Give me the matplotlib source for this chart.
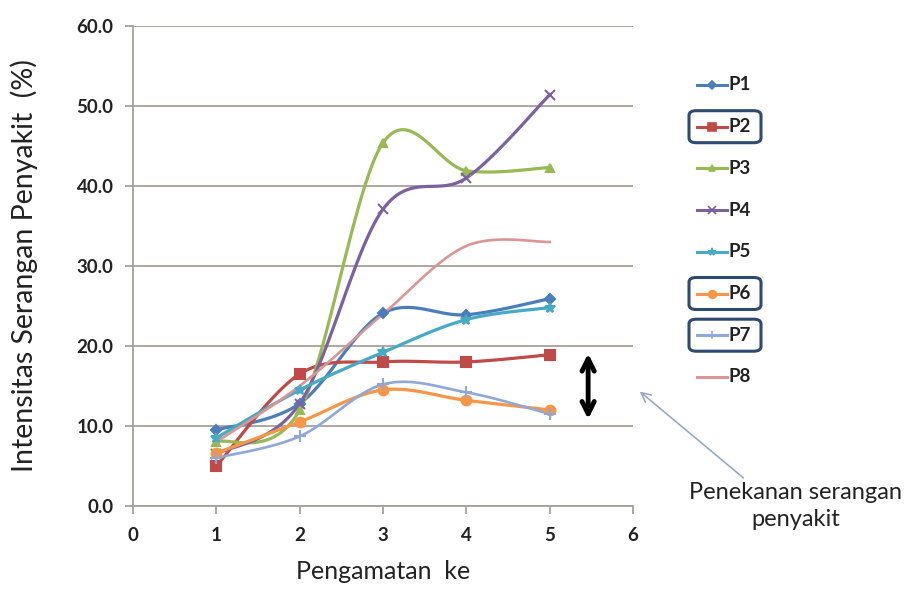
import numpy as np
import matplotlib
matplotlib.use('Agg')
from matplotlib import pyplot as plt
from matplotlib.lines import Line2D
from matplotlib.patches import FancyBboxPatch

plt.rcParams['font.family'] = ['Lato', 'DejaVu Sans']

# data
pengamatan = [1, 2, 3, 4, 5]
P1 = [9.5, 12.8, 24.1, 23.9, 25.9]
P2 = [5.0, 16.5, 18.0, 18.0, 18.9]
P3 = [8.0, 12.0, 45.4, 41.9, 42.3]
P4 = [6.5, 12.8, 37.1, 41.0, 51.4]
P5 = [8.5, 14.5, 19.2, 23.3, 24.8]
P6 = [6.6, 10.5, 14.5, 13.2, 12.0]
P7 = [6.0, 8.7, 15.2, 14.2, 11.5]
P8 = [8.0, 15.0, 24.0, 32.5, 33.0]

names = ['P1', 'P2', 'P3', 'P4', 'P5', 'P6', 'P7', 'P8']
series = [P1, P2, P3, P4, P5, P6, P7, P8]
colors = ['#4a7ebb', '#be4b48', '#98b954', '#7d60a0', '#46aac5', '#f79646', '#8ea9d8', '#d99694']
markers = ['D', 's', '^', 'x', '*', 'o', '+', None]
msizes = [5, 7, 6, 7, 7, 7, 8, 0]
boxed = ['P2', 'P6', 'P7']


def smooth(x, y, n=30):
    # Excel-like smoothed line (Catmull-Rom Bezier through the points)
    x = np.asarray(x, float)
    y = np.asarray(y, float)
    px = np.concatenate([[x[0]], x, [x[-1]]])
    py = np.concatenate([[y[0]], y, [y[-1]]])
    xs, ys = [], []
    t = np.linspace(0, 1, n)
    for i in range(1, len(px) - 2):
        p0 = np.array([px[i], py[i]])
        p3 = np.array([px[i + 1], py[i + 1]])
        c1 = p0 + (np.array([px[i + 1], py[i + 1]]) - np.array([px[i - 1], py[i - 1]])) / 6
        c2 = p3 - (np.array([px[i + 2], py[i + 2]]) - np.array([px[i], py[i]])) / 6
        b = ((1 - t) ** 3)[:, None] * p0 + (3 * (1 - t) ** 2 * t)[:, None] * c1 \
            + (3 * (1 - t) * t ** 2)[:, None] * c2 + (t ** 3)[:, None] * p3
        xs.extend(b[:, 0])
        ys.extend(b[:, 1])
    return xs, ys


W, H = 911, 589
fig = plt.figure(figsize=(W / 100, H / 100), dpi=100)
ax = fig.add_axes([0.146, 0.141, 0.549, 0.815])

for name, ys, c, m, ms in zip(names, series, colors, markers, msizes):
    sx, sy = smooth(pengamatan, ys)
    lw = 2.3 if name not in ('P7', 'P8') else 1.9
    ax.plot(sx, sy, color=c, lw=lw, zorder=2)
    if m:
        ax.plot(pengamatan, ys, ls='none', marker=m, color=c, ms=ms, mew=1.5, zorder=3)

ax.set_xlim(0, 6)
ax.set_ylim(0, 60)
ax.set_xticks(range(0, 7))
ax.set_yticks(np.arange(0, 61, 10))
ax.set_yticklabels(['%.1f' % v for v in np.arange(0, 61, 10)])
ax.yaxis.grid(True, color='#a8a09a', lw=1.3)
ax.set_axisbelow(True)
for s in ['top', 'right']:
    ax.spines[s].set_visible(False)
for s in ['left', 'bottom']:
    ax.spines[s].set_color('#a8a09a')
    ax.spines[s].set_linewidth(1.3)
ax.tick_params(axis='both', colors='#a8a09a', length=6, width=1.3, labelcolor='#222222',
               labelsize=13.5)
ax.tick_params(axis='x', pad=9)
ax.tick_params(axis='y', pad=8)
for lab in ax.get_xticklabels() + ax.get_yticklabels():
    lab.set_fontweight('bold')

ax.set_ylabel('Intensitas Serangan Penyakit  (%)', fontsize=20.5, color='#222222', labelpad=8)
ax.set_xlabel('Pengamatan  ke', fontsize=18, color='#222222')
ax.xaxis.set_label_coords(0.5, -0.113)
ax.yaxis.set_label_coords(-0.19, 0.5)

# double arrow
ax.annotate('', xy=(5.46, 10.5), xytext=(5.46, 19.4),
            arrowprops=dict(arrowstyle='<->', lw=3.5, color='black', mutation_scale=22))
# pointer to the note
ax.annotate('Penekanan serangan\npenyakit', xy=(6.08, 14.3), xytext=(7.95, 0.0),
            ha='center', va='center', fontsize=17, color='#222222', linespacing=1.3,
            annotation_clip=False,
            arrowprops=dict(arrowstyle='->', lw=1.1, color='#8fa5c0', shrinkB=0, shrinkA=2,
                            relpos=(0.28, 1.0)))

# legend drawn by hand so rows and boxes sit where they do in the original
tf = fig.transFigure
for i, (name, c, m, ms) in enumerate(zip(names, colors, markers, msizes)):
    yc = 1 - (85 + i * 41.7) / H
    fig.add_artist(Line2D([697 / W, 727 / W], [yc, yc], transform=tf, color=c, lw=2.2))
    if m:
        fig.add_artist(Line2D([712 / W], [yc], transform=tf, color=c, marker=m,
                              ms=ms * 0.8, mew=1.2, ls='none'))
    fig.text(729 / W, yc, name, transform=tf, fontsize=13.5, fontweight='bold',
             color='#222222', va='center', ha='left')
    if name in boxed:
        fig.patches.append(FancyBboxPatch((689 / W, yc - 16 / H), 72 / W, 32 / H,
                                          boxstyle='round,pad=0,rounding_size=0.008',
                                          transform=tf, fill=False, ec='#2e4a70', lw=2.2))

fig.savefig('out.png', dpi=100)
